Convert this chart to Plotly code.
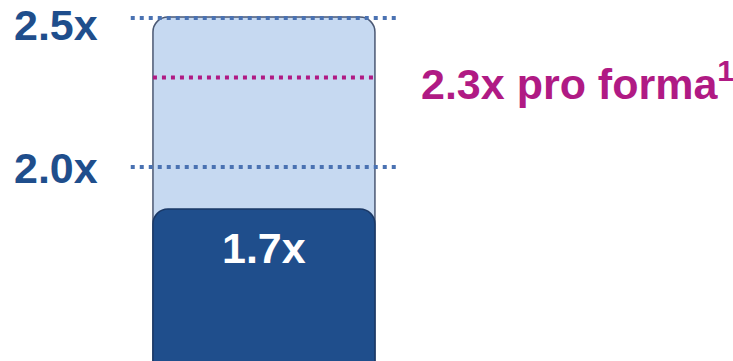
import plotly.graph_objects as go

# Leverage multiples
current_value = [1.7]          # dark bar
target_top = [2.5]             # light range bar (top of the target band)
ref_levels = [2.5, 2.0]        # blue dotted reference levels
proforma_level = 2.3           # magenta pro forma level
proforma_note = "pro forma"
categories = [0]

DARK = "#1f4e8c"
LIGHT = "#c6d9f1"
LINE_BLUE = "#4a72b2"
MAGENTA = "#b01a84"
FONT = "Liberation Sans, Arial, sans-serif"
X_RANGE = [-1.189, 2.113]

fig = go.Figure()

# Light band behind, dark current-level bar in front (own x axis so both get rounded tops)
fig.add_trace(go.Bar(
    x=categories, y=target_top, width=1,
    marker=dict(color=LIGHT, line=dict(color="#4b5873", width=1.5), cornerradius=15),
    hoverinfo="skip",
))
fig.add_trace(go.Bar(
    x=categories, y=current_value, width=1, xaxis="x2",
    marker=dict(color=DARK, line=dict(color="#1a3866", width=1.5), cornerradius=15),
    hoverinfo="skip",
))

# Invisible trace to activate the second (reference-line) axis
fig.add_trace(go.Scatter(x=[categories[0]], y=[ref_levels[0]], yaxis="y2",
                         mode="markers", marker=dict(opacity=0), hoverinfo="skip"))

shapes = []
annotations = []
label_shift = [-7, -1]
for i, lvl in enumerate(ref_levels):
    shapes.append(dict(type="line", xref="x", yref="y2", x0=-0.6, x1=0.6, y0=lvl, y1=lvl,
                       line=dict(color=LINE_BLUE, width=4, dash="4px,5px")))
    annotations.append(dict(
        text=f"{lvl:.1f}x", xref="paper", yref="y2", x=12 / 733, y=lvl,
        xanchor="left", yanchor="middle", showarrow=False,
        yshift=label_shift[i],
        font=dict(family=FONT, size=43, color=DARK, weight="bold"),
    ))

shapes.append(dict(type="line", xref="x", yref="y2", x0=-0.5, x1=0.5,
                   y0=proforma_level, y1=proforma_level,
                   line=dict(color=MAGENTA, width=4, dash="4px,5px")))
annotations.append(dict(
    text=f"{proforma_level:.1f}x {proforma_note}<sup>1</sup>",
    xref="paper", yref="y2", x=419 / 733, y=proforma_level,
    xanchor="left", yanchor="middle", showarrow=False, yshift=-3,
    font=dict(family=FONT, size=43, color=MAGENTA, weight="bold"),
))

annotations.append(dict(
    text=f"{current_value[0]:.1f}x", xref="x", yref="y", x=categories[0], y=current_value[0],
    xanchor="center", yanchor="top", yshift=-13, showarrow=False,
    font=dict(family=FONT, size=43, color="white", weight="bold"),
))

fig.update_layout(
    width=733, height=361,
    margin=dict(l=0, r=0, t=0, b=0),
    paper_bgcolor="white", plot_bgcolor="white",
    barmode="overlay", showlegend=False,
    xaxis=dict(range=X_RANGE, visible=False, fixedrange=True),
    xaxis2=dict(range=X_RANGE, overlaying="x", visible=False, fixedrange=True),
    yaxis=dict(range=[1.0667, 2.5708], visible=False, fixedrange=True),
    yaxis2=dict(range=[1.349, 2.5604], overlaying="y", visible=False, fixedrange=True),
    shapes=shapes, annotations=annotations,
)

fig.write_html("out.html")
